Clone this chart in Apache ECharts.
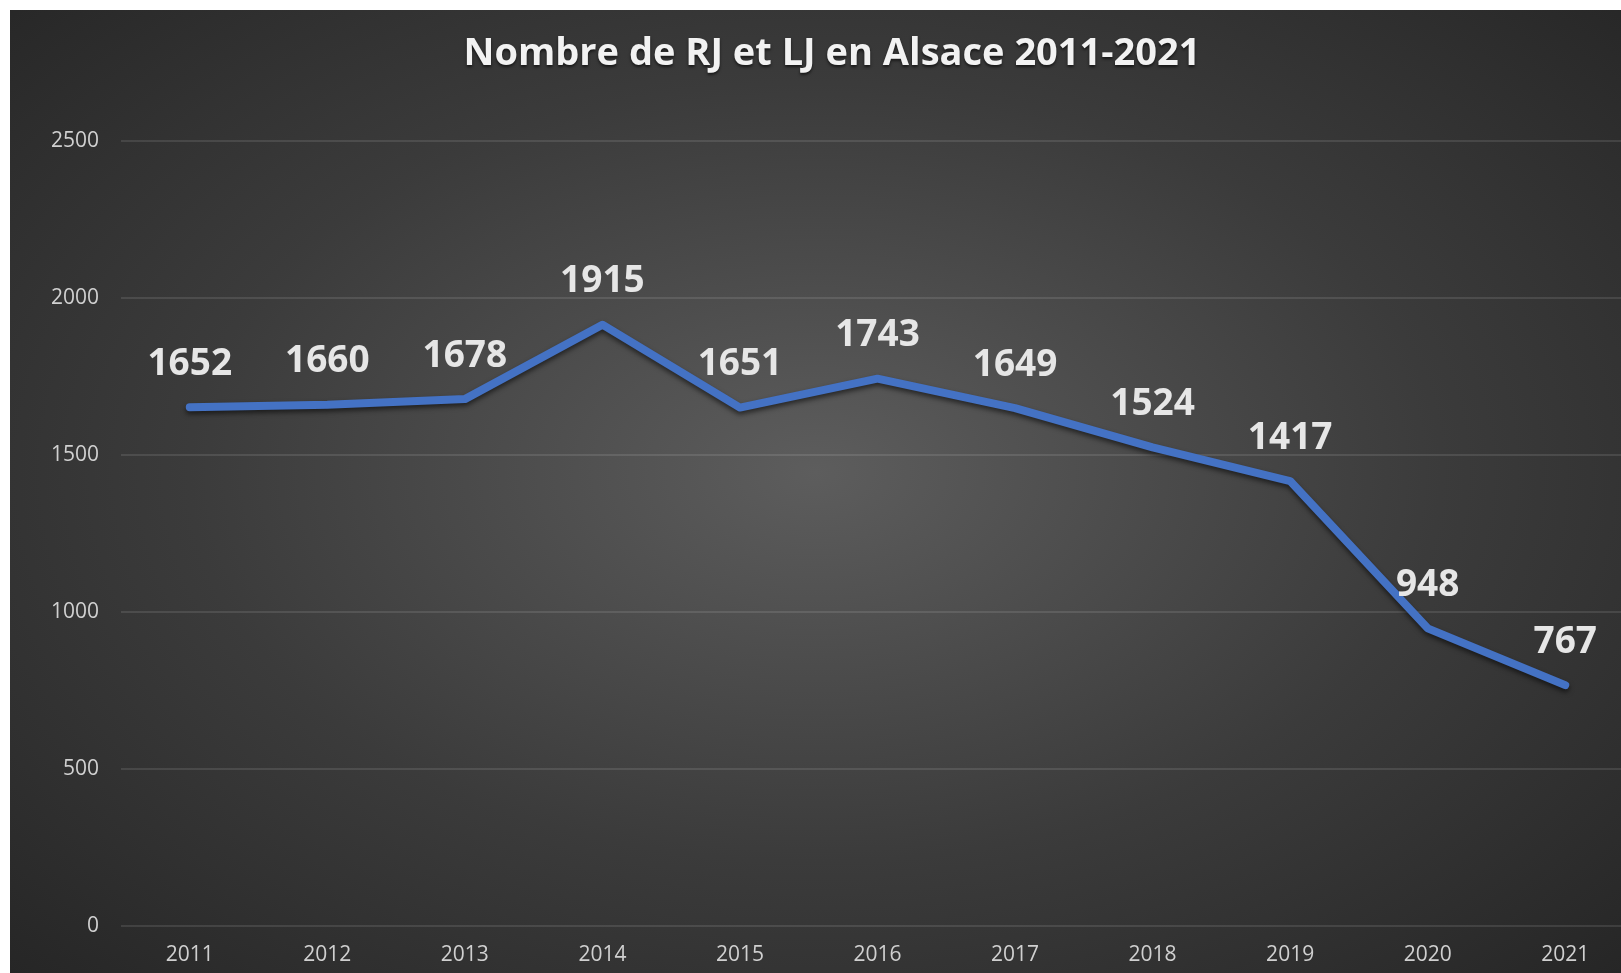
<!DOCTYPE html>
<html>
<head>
<meta charset="utf-8">
<script src="https://cdn.jsdelivr.net/npm/echarts@6/dist/echarts.min.js"></script>
<style>
  html, body { margin: 0; padding: 0; background: #ffffff; overflow: hidden; }
  #frame {
    position: absolute; left: 10px; top: 10px;
    width: 1611px; height: 963px; overflow: hidden;
    background: radial-gradient(ellipse at 50% 48%, #5d5d5d 0%, #3b3b3b 55%, #262626 100%);
  }
  #chart { position: absolute; left: 0; top: 0; width: 1650px; height: 963px; }
</style>
</head>
<body>
<div id="frame"><div id="chart"></div></div>
<script>
// données
const years = ['2011', '2012', '2013', '2014', '2015', '2016', '2017', '2018', '2019', '2020', '2021'];
const counts = [1652, 1660, 1678, 1915, 1651, 1743, 1649, 1524, 1417, 948, 767];
const yTicks = [0, 500, 1000, 1500, 2000, 2500];

const chart = echarts.init(document.getElementById('chart'));

chart.setOption({
  backgroundColor: 'transparent',
  animation: false,
  title: {
    text: 'Nombre de RJ et LJ en Alsace 2011-2021',
    left: 817,
    textAlign: 'center',
    top: 20,
    textStyle: {
      fontFamily: 'Open Sans',
      fontWeight: 'bold',
      fontSize: 38,
      color: '#f2f2f2',
      textShadowColor: 'rgba(0,0,0,0.6)',
      textShadowBlur: 3,
      textShadowOffsetY: 2
    }
  },
  grid: { left: 111, top: 131, width: 1513, height: 785 },
  xAxis: {
    type: 'category',
    data: years,
    boundaryGap: true,
    axisLine: { show: false },
    axisTick: { show: false },
    axisLabel: {
      fontFamily: 'Open Sans',
      fontSize: 21,
      color: '#d0d0d0',
      margin: 19
    }
  },
  yAxis: {
    type: 'value',
    min: yTicks[0],
    max: yTicks[yTicks.length - 1],
    interval: 500,
    axisLine: { show: false },
    axisTick: { show: false },
    axisLabel: {
      fontFamily: 'Open Sans',
      fontSize: 21,
      color: '#d0d0d0',
      margin: 22,
      formatter: v => String(v)
    },
    splitLine: { lineStyle: { color: 'rgba(255,255,255,0.14)', width: 1.5 } }
  },
  series: [{
    type: 'line',
    data: counts,
    symbol: 'circle',
    symbolSize: 1,
    showSymbol: true,
    itemStyle: { color: '#4472c4' },
    lineStyle: {
      color: '#4472c4',
      width: 8,
      cap: 'round',
      join: 'round',
      shadowColor: 'rgba(0,0,0,0.55)',
      shadowBlur: 5,
      shadowOffsetY: 3
    },
    label: {
      show: true,
      position: 'top',
      distance: 24,
      fontFamily: 'Open Sans',
      fontWeight: 'bold',
      fontSize: 37,
      color: '#e6e6e6'
    }
  }]
});
</script>
</body>
</html>
